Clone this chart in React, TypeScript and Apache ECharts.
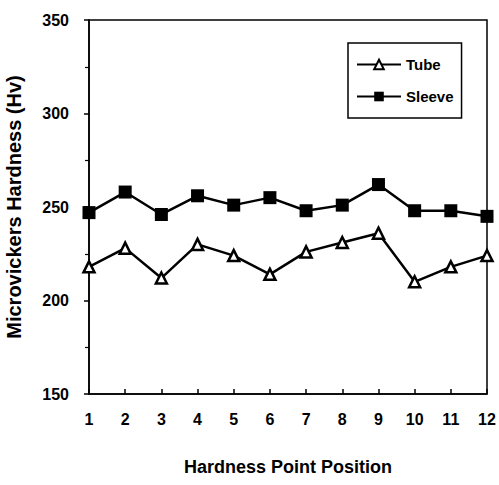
import React, { useEffect, useRef } from "react";
import * as echarts from "echarts";

const categories = ["1", "2", "3", "4", "5", "6", "7", "8", "9", "10", "11", "12"];
const tubeValues = [218, 228, 212, 230, 224, 214, 226, 231, 236, 210, 218, 224];
const sleeveValues = [247, 258, 246, 256, 251, 255, 248, 251, 262, 248, 248, 245];
const xTitle = "Hardness Point Position";
const yTitle = "Microvickers Hardness (Hv)";

const FONT = "Liberation Sans, Arial, sans-serif";

export default function App() {
  const ref = useRef<HTMLDivElement>(null);
  useEffect(() => {
    if (!ref.current) return;
    const chart = echarts.init(ref.current, undefined, { renderer: "svg" });
    chart.setOption({
      animation: false,
      backgroundColor: "#fff",
      grid: {
        left: 89,
        right: 12,
        top: 20,
        bottom: 91,
        outerBoundsMode: "none",
        containLabel: false,
        show: true,
        borderColor: "#000",
        borderWidth: 1.5,
        backgroundColor: "transparent",
      },
      legend: {
        orient: "vertical",
        left: 348,
        top: 43,
        itemWidth: 44,
        itemHeight: 12,
        itemGap: 17,
        padding: [14, 8, 14, 8],
        borderColor: "#000",
        borderWidth: 1.5,
        textStyle: { fontFamily: FONT, fontWeight: "bold", fontSize: 15, color: "#000" },
        data: ["Tube", "Sleeve"],
      },
      xAxis: {
        type: "category",
        data: categories,
        boundaryGap: false,
        name: xTitle,
        nameLocation: "middle",
        nameGap: 64,
        nameTextStyle: { fontFamily: FONT, fontWeight: "bold", fontSize: 18, color: "#000" },
        axisLine: { lineStyle: { color: "#000", width: 1.5 } },
        axisTick: { inside: true, length: 5, lineStyle: { color: "#000", width: 1.5 } },
        axisLabel: { fontFamily: FONT, fontWeight: "bold", fontSize: 16, color: "#000", margin: 17 },
        splitLine: { show: false },
      },
      yAxis: {
        type: "value",
        min: 150,
        max: 350,
        interval: 50,
        name: yTitle,
        nameLocation: "middle",
        nameGap: 65,
        nameTextStyle: { fontFamily: FONT, fontWeight: "bold", fontSize: 20, color: "#000" },
        axisLine: { show: true, lineStyle: { color: "#000", width: 1.5 } },
        axisTick: { show: true, inside: false, length: 5, lineStyle: { color: "#000", width: 1.5 } },
        minorTick: { show: true, splitNumber: 2, length: 4, lineStyle: { color: "#000", width: 1.2 } },
        axisLabel: { fontFamily: FONT, fontWeight: "bold", fontSize: 16, color: "#000", margin: 20 },
        splitLine: { show: false },
      },
      series: [
        {
          name: "Tube",
          type: "line",
          data: tubeValues,
          symbol: "triangle",
          symbolSize: 11,
          lineStyle: { color: "#000", width: 2.5 },
          itemStyle: { color: "#fff", borderColor: "#000", borderWidth: 2.5 },
        },
        {
          name: "Sleeve",
          type: "line",
          data: sleeveValues,
          symbol: "rect",
          symbolSize: 13,
          lineStyle: { color: "#000", width: 2.5 },
          itemStyle: { color: "#000", borderColor: "#000", borderWidth: 0 },
        },
      ],
    });
    return () => chart.dispose();
  }, []);
  return <div ref={ref} style={{ width: 499, height: 485, position: "absolute", left: 0, top: 0 }} />;
}
